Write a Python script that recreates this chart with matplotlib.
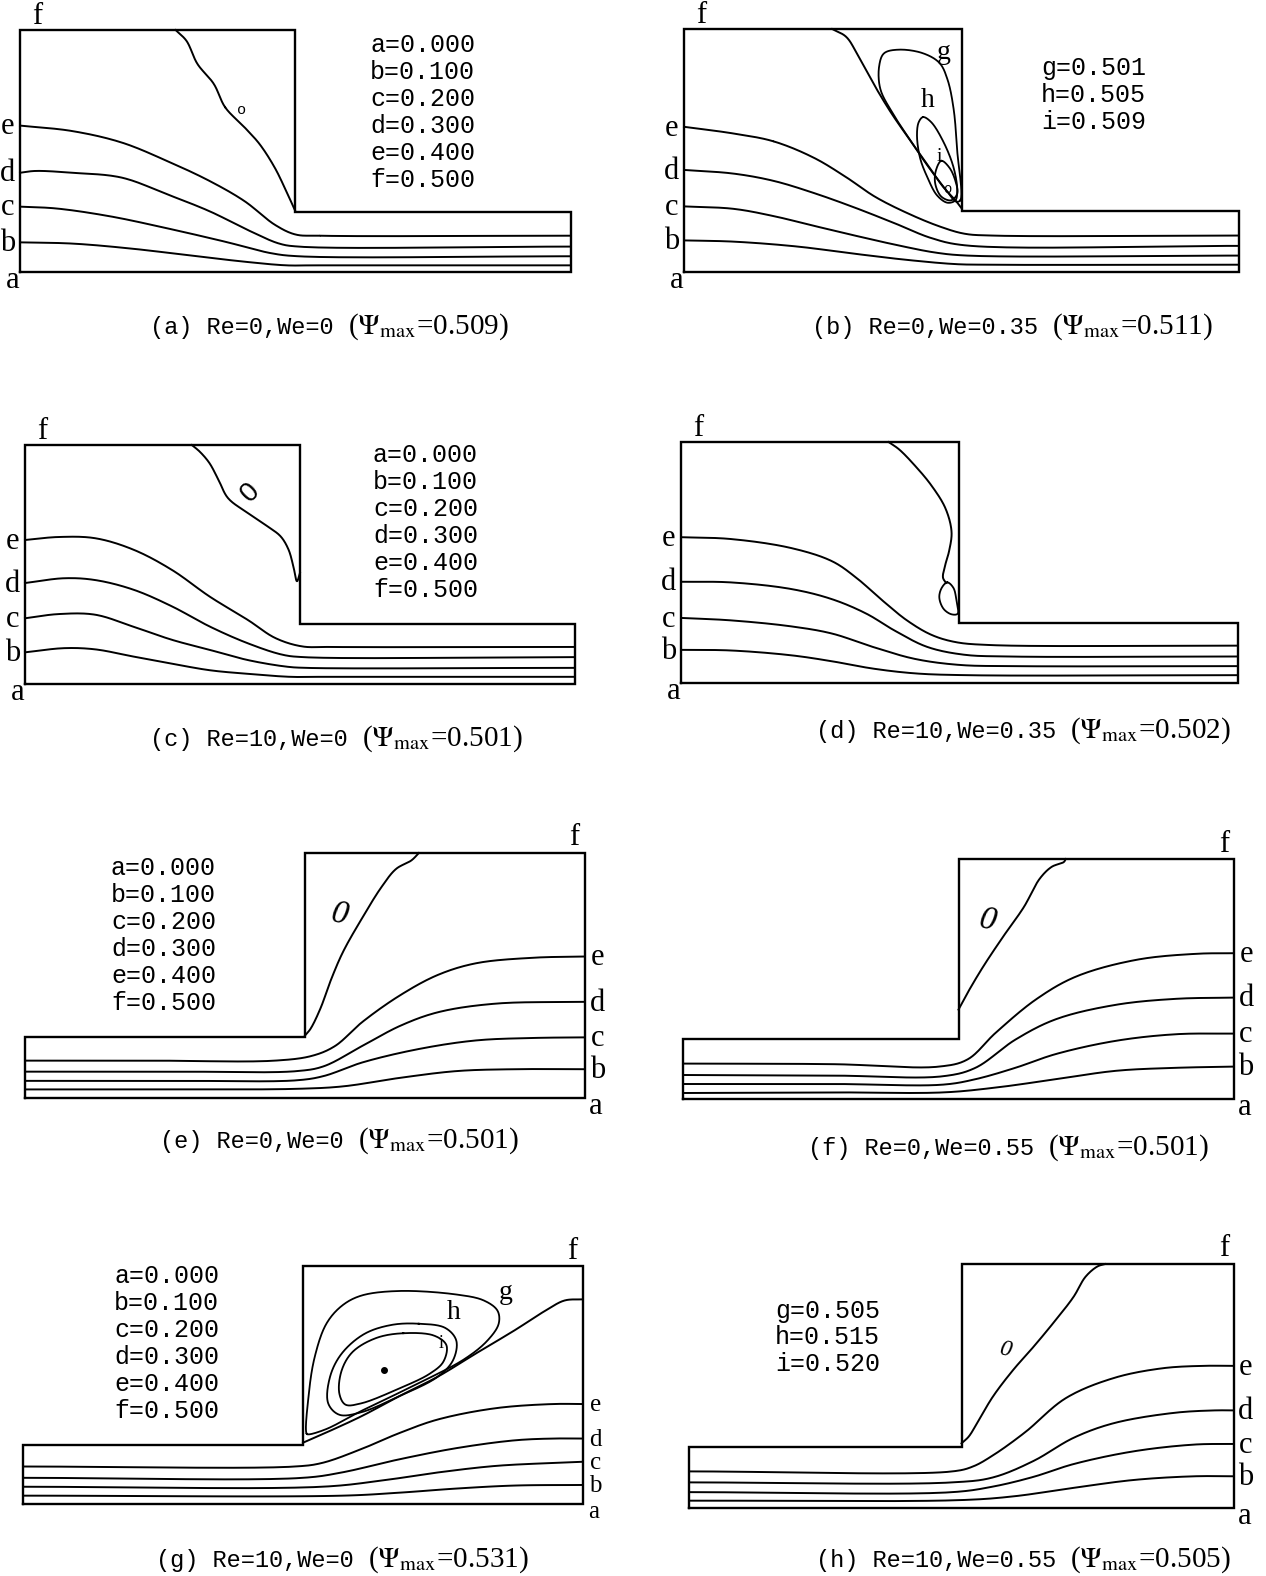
"""
Streamline plots for 4:1 contraction / expansion flow (eight cases).
Points are read off the scanned figure in channel units:
x from -4.55 to 4.55 with the step at x=0, y from 0 (centreline) to 4 (wall).
"""

import numpy as np
import matplotlib.pyplot as plt

W, H = 1266, 1576
L = 4.55

# ---- legend / caption data ----
LEGEND_MAIN = ["a=0.000", "b=0.100", "c=0.200", "d=0.300", "e=0.400", "f=0.500"]
LEGEND_B = ["g=0.501", "h=0.505", "i=0.509"]
LEGEND_H = ["g=0.505", "h=0.515", "i=0.520"]

TAGS = ["(a)", "(b)", "(c)", "(d)", "(e)", "(f)", "(g)", "(h)"]
PARAMS = ["Re=0,We=0", "Re=0,We=0.35", "Re=10,We=0", "Re=10,We=0.35",
          "Re=0,We=0", "Re=0,We=0.55", "Re=10,We=0", "Re=10,We=0.55"]
PSI_MAX = ["0.509", "0.511", "0.501", "0.502", "0.501", "0.501", "0.531", "0.505"]

# ---- (a) Re=0, We=0 ----
A_E = [(-4.55, 2.42), (-3.69, 2.33), (-2.87, 2.14), (-2.11, 1.83), (-1.41, 1.5),
       (-0.84, 1.17), (-0.34, 0.78), (0.0, 0.62), (0.4, 0.6), (4.55, 0.6)]
A_D = [(-4.55, 1.64), (-4.3, 1.67), (-3.69, 1.64), (-2.87, 1.56), (-2.11, 1.28),
       (-1.41, 1.0), (-0.78, 0.69), (-0.27, 0.47), (0.05, 0.42), (4.55, 0.42)]
A_C = [(-4.55, 1.08), (-3.95, 1.05), (-3.06, 0.92), (-2.11, 0.72), (-1.16, 0.5),
       (-0.4, 0.31), (0.05, 0.26), (4.55, 0.26)]
A_B = [(-4.55, 0.49), (-3.69, 0.47), (-2.74, 0.39), (-1.79, 0.28), (-0.84, 0.17),
       (-0.15, 0.11), (0.3, 0.11), (4.55, 0.11)]
A_SEP = [(-1.98, 4.0), (-1.8, 3.82), (-1.62, 3.44), (-1.35, 3.11), (-1.16, 2.72),
         (-0.84, 2.39), (-0.59, 2.11), (-0.34, 1.72), (-0.15, 1.33), (0.0, 1.0)]

# ---- (b) Re=0, We=0.35 ----
B_E = [(-4.55, 2.39), (-3.74, 2.28), (-3.08, 2.15), (-2.42, 1.88), (-1.89, 1.56),
       (-1.42, 1.24), (-0.89, 0.97), (-0.36, 0.75), (0.05, 0.63), (0.5, 0.6), (4.55, 0.6)]
B_D = [(-4.55, 1.68), (-3.74, 1.62), (-3.08, 1.5), (-2.42, 1.3), (-1.75, 1.06),
       (-1.09, 0.8), (-0.5, 0.56), (0.05, 0.44), (4.55, 0.43)]
B_C = [(-4.55, 1.08), (-3.74, 1.04), (-3.08, 0.92), (-2.42, 0.76), (-1.75, 0.6),
       (-1.09, 0.45), (-0.43, 0.32), (0.1, 0.27), (4.55, 0.27)]
B_B = [(-4.55, 0.52), (-3.74, 0.5), (-2.7, 0.42), (-1.75, 0.3), (-0.9, 0.2),
       (-0.1, 0.13), (0.4, 0.12), (4.55, 0.12)]
B_SEP = [(-2.12, 4.0), (-1.89, 3.87), (-1.69, 3.55), (-1.42, 3.06), (-1.16, 2.63),
         (-0.83, 2.15), (-0.56, 1.77), (-0.3, 1.4), (-0.1, 1.18), (0.0, 1.05)]
B_G = [(-0.02, 1.18), (-0.07, 1.99), (-0.13, 2.69), (-0.23, 3.17), (-0.36, 3.44),
       (-0.63, 3.6), (-1.03, 3.66), (-1.27, 3.6), (-1.35, 3.39), (-1.33, 3.01),
       (-1.12, 2.6), (-0.84, 2.17), (-0.55, 1.74), (-0.26, 1.36), (-0.09, 1.16)]
B_H = [(-0.63, 2.55), (-0.5, 2.47), (-0.3, 2.15), (-0.13, 1.72), (-0.07, 1.34),
       (-0.1, 1.18), (-0.23, 1.14), (-0.4, 1.26), (-0.56, 1.56), (-0.68, 1.88),
       (-0.73, 2.26), (-0.7, 2.47)]
B_I = [(-0.33, 1.83), (-0.2, 1.72), (-0.1, 1.5), (-0.07, 1.29), (-0.17, 1.18),
       (-0.33, 1.24), (-0.43, 1.45), (-0.42, 1.67)]

# ---- (c) Re=10, We=0 ----
C_E = [(-4.55, 2.41), (-4.0, 2.46), (-3.39, 2.44), (-2.76, 2.25), (-2.12, 1.91),
       (-1.49, 1.46), (-0.86, 1.07), (-0.41, 0.77), (0.03, 0.63), (0.5, 0.62), (4.55, 0.62)]
C_D = [(-4.55, 1.69), (-3.9, 1.77), (-3.39, 1.74), (-2.76, 1.58), (-2.12, 1.3),
       (-1.49, 0.96), (-0.86, 0.68), (-0.29, 0.49), (0.05, 0.45), (4.55, 0.45)]
C_C = [(-4.55, 1.1), (-4.0, 1.17), (-3.39, 1.16), (-2.76, 0.96), (-2.12, 0.74),
       (-1.49, 0.57), (-0.86, 0.4), (-0.22, 0.29), (0.1, 0.27), (4.55, 0.27)]
C_B = [(-4.55, 0.53), (-3.9, 0.6), (-3.39, 0.58), (-2.76, 0.46), (-2.12, 0.34),
       (-1.49, 0.23), (-0.86, 0.17), (-0.16, 0.12), (0.3, 0.12), (4.55, 0.12)]
C_SEP = [(-1.79, 4.0), (-1.66, 3.89), (-1.5, 3.7), (-1.35, 3.42), (-1.19, 3.11),
         (-0.86, 2.86), (-0.54, 2.64), (-0.32, 2.47), (-0.19, 2.25), (-0.11, 1.97),
         (-0.05, 1.72), (0.0, 1.86)]

# ---- (d) Re=10, We=0.35 ----
D_E = [(-4.55, 2.42), (-3.74, 2.39), (-2.75, 2.24), (-2.08, 2.02), (-1.69, 1.75),
       (-1.26, 1.37), (-0.86, 1.04), (-0.46, 0.8), (-0.07, 0.68), (0.5, 0.63), (4.55, 0.62)]
D_D = [(-4.55, 1.68), (-3.74, 1.67), (-2.75, 1.56), (-2.08, 1.39), (-1.52, 1.15),
       (-1.06, 0.87), (-0.53, 0.6), (0.07, 0.47), (0.8, 0.44), (4.55, 0.44)]
D_C = [(-4.55, 1.08), (-3.74, 1.04), (-2.75, 0.94), (-2.08, 0.82), (-1.42, 0.6),
       (-0.73, 0.4), (0.0, 0.3), (0.9, 0.28), (4.55, 0.28)]
D_B = [(-4.55, 0.55), (-3.74, 0.54), (-2.75, 0.46), (-2.08, 0.36), (-1.42, 0.24),
       (-0.73, 0.16), (0.1, 0.13), (4.55, 0.13)]
D_SEP = [(-1.16, 4.0), (-0.99, 3.88), (-0.73, 3.61), (-0.46, 3.28), (-0.23, 2.9),
         (-0.13, 2.51), (-0.17, 2.19), (-0.23, 1.97), (-0.27, 1.75), (-0.22, 1.66)]
D_LOOP = [(-0.2, 1.67), (-0.1, 1.58), (-0.05, 1.37), (-0.03, 1.15), (-0.13, 1.14),
          (-0.26, 1.23), (-0.33, 1.42), (-0.29, 1.58)]

# ---- (e) Re=0, We=0 (expansion) ----
E_E = [(-4.55, 0.61), (-2.47, 0.61), (-0.49, 0.61), (0.12, 0.69), (0.49, 0.85),
       (0.93, 1.24), (1.55, 1.68), (2.16, 2.01), (2.78, 2.2), (3.71, 2.29), (4.55, 2.31)]
E_D = [(-4.55, 0.43), (-2.0, 0.43), (-0.12, 0.44), (0.31, 0.52), (0.93, 0.85),
       (1.55, 1.18), (2.16, 1.4), (3.09, 1.54), (4.55, 1.57)]
E_C = [(-4.55, 0.28), (-2.0, 0.28), (-0.12, 0.29), (0.31, 0.36), (0.93, 0.58),
       (1.85, 0.8), (2.78, 0.94), (3.71, 0.98), (4.55, 0.99)]
E_B = [(-4.55, 0.14), (-2.0, 0.14), (-0.12, 0.15), (0.62, 0.19), (1.55, 0.33),
       (2.47, 0.44), (3.4, 0.47), (4.55, 0.47)]
E_SEP = [(0.0, 1.02), (0.09, 1.13), (0.25, 1.46), (0.43, 1.95), (0.62, 2.39),
         (0.93, 2.94), (1.24, 3.44), (1.48, 3.74), (1.73, 3.88), (1.85, 4.0)]

# ---- (f) Re=0, We=0.55 (expansion) ----
F_E = [(-4.55, 0.59), (-2.05, 0.58), (-0.32, 0.54), (0.15, 0.66), (0.61, 1.1),
       (1.28, 1.66), (1.94, 2.04), (2.94, 2.32), (3.93, 2.42), (4.55, 2.43)]
F_D = [(-4.55, 0.4), (-2.05, 0.39), (-0.25, 0.38), (0.28, 0.52), (0.94, 0.99),
       (1.61, 1.33), (2.6, 1.57), (3.6, 1.67), (4.55, 1.69)]
F_C = [(-4.55, 0.25), (-2.05, 0.25), (-0.25, 0.24), (0.28, 0.33), (0.94, 0.52),
       (1.61, 0.75), (2.6, 0.97), (3.6, 1.08), (4.55, 1.09)]
F_B = [(-4.55, 0.1), (-2.05, 0.11), (-0.25, 0.11), (0.61, 0.19), (1.61, 0.33),
       (2.6, 0.47), (3.6, 0.52), (4.55, 0.54)]
F_SEP = [(0.0, 1.49), (0.15, 1.77), (0.41, 2.21), (0.74, 2.71), (1.08, 3.2),
         (1.34, 3.67), (1.54, 3.87), (1.74, 3.95), (1.77, 4.0)]

# ---- (g) Re=10, We=0 (expansion) ----
G_E = [(-4.55, 0.63), (-0.13, 0.63), (0.31, 0.69), (0.94, 0.92), (1.56, 1.19),
       (2.19, 1.42), (3.13, 1.61), (4.06, 1.68), (4.55, 1.68)]
G_D = [(-4.55, 0.44), (0.0, 0.44), (0.63, 0.53), (1.56, 0.75), (2.5, 0.94),
       (3.44, 1.07), (4.06, 1.1), (4.55, 1.1)]
G_C = [(-4.55, 0.29), (0.31, 0.29), (1.25, 0.39), (2.19, 0.53), (3.13, 0.64),
       (4.06, 0.69), (4.55, 0.71)]
G_B = [(-4.55, 0.14), (0.63, 0.14), (1.56, 0.19), (2.5, 0.26), (3.44, 0.31), (4.55, 0.32)]
G_SEP = [(0.0, 1.03), (0.31, 1.17), (0.94, 1.47), (1.56, 1.81), (2.19, 2.14),
         (2.81, 2.53), (3.44, 2.92), (3.94, 3.25), (4.25, 3.42), (4.55, 3.44)]
G_G = [(0.06, 1.18), (0.09, 1.81), (0.19, 2.47), (0.38, 3.03), (0.63, 3.33),
       (0.94, 3.5), (1.56, 3.58), (2.5, 3.52), (2.94, 3.42), (3.16, 3.25),
       (3.18, 3.03), (3.0, 2.75), (2.63, 2.44), (1.88, 2.03), (0.94, 1.56),
       (0.38, 1.26), (0.09, 1.17)]
G_H = [(1.88, 3.03), (2.31, 2.96), (2.49, 2.75), (2.44, 2.42), (2.19, 2.14),
       (1.56, 1.81), (0.94, 1.54), (0.59, 1.5), (0.41, 1.69), (0.44, 2.14),
       (0.63, 2.53), (1.0, 2.86), (1.44, 3.01)]
G_I = [(1.63, 2.87), (2.13, 2.83), (2.33, 2.67), (2.28, 2.39), (2.06, 2.19),
       (1.56, 1.94), (0.94, 1.69), (0.69, 1.67), (0.59, 1.86), (0.63, 2.25),
       (0.81, 2.56), (1.19, 2.79)]
G_CENTRE = (1.31, 2.25)

# ---- (h) Re=10, We=0.55 (expansion) ----
H_E = [(-4.55, 0.6), (-0.15, 0.6), (0.19, 0.68), (0.52, 0.86), (1.06, 1.24),
       (1.74, 1.8), (2.54, 2.13), (3.35, 2.29), (4.02, 2.33), (4.55, 2.33)]
H_D = [(-4.55, 0.42), (-0.15, 0.42), (0.52, 0.5), (1.2, 0.77), (1.87, 1.15),
       (2.54, 1.39), (3.55, 1.56), (4.23, 1.6), (4.55, 1.6)]
H_C = [(-4.55, 0.26), (-0.15, 0.26), (0.52, 0.35), (1.2, 0.51), (1.87, 0.72),
       (2.88, 0.93), (3.89, 1.04), (4.55, 1.05)]
H_B = [(-4.55, 0.12), (0.0, 0.13), (0.86, 0.19), (1.87, 0.33), (2.88, 0.46),
       (3.89, 0.52), (4.55, 0.52)]
H_SEP = [(0.0, 1.06), (0.12, 1.17), (0.26, 1.39), (0.52, 1.82), (0.86, 2.26),
         (1.2, 2.64), (1.53, 3.03), (1.87, 3.46), (2.07, 3.79), (2.27, 3.96), (2.4, 4.0)]

MONO = "Liberation Mono"
SERIF = "Liberation Serif"
plt.rcParams["mathtext.fontset"] = "stix"


def smooth(pts, closed=False, n=24):
    """Centripetal Catmull-Rom curve through the read points."""
    p = np.asarray(pts, float)
    if closed:
        p = np.vstack([p[-1], p, p[0], p[1]])
    else:
        p = np.vstack([2 * p[0] - p[1], p, 2 * p[-1] - p[-2]])
    out = []
    for i in range(1, len(p) - 2):
        p0, p1, p2, p3 = p[i - 1], p[i], p[i + 1], p[i + 2]
        t0 = 0.0
        t1 = t0 + max(np.linalg.norm(p1 - p0), 1e-6) ** 0.5
        t2 = t1 + max(np.linalg.norm(p2 - p1), 1e-6) ** 0.5
        t3 = t2 + max(np.linalg.norm(p3 - p2), 1e-6) ** 0.5
        t = np.linspace(t1, t2, n)[:, None]
        a1 = (t1 - t) / (t1 - t0) * p0 + (t - t0) / (t1 - t0) * p1
        a2 = (t2 - t) / (t2 - t1) * p1 + (t - t1) / (t2 - t1) * p2
        a3 = (t3 - t) / (t3 - t2) * p2 + (t - t2) / (t3 - t2) * p3
        b1 = (t2 - t) / (t2 - t0) * a1 + (t - t0) / (t2 - t0) * a2
        b2 = (t3 - t) / (t3 - t1) * a2 + (t - t1) / (t3 - t1) * a3
        out.append((t2 - t) / (t2 - t1) * b1 + (t - t1) / (t2 - t1) * b2)
    return np.vstack(out)


def fx(x):
    return x / W


def fy(y):
    return 1 - y / H


def draw_panel(rect, expansion, lines, extra=(), closed=(), tag_size=22):
    left, top, width, height = rect
    ax = fig.add_axes([fx(left), fy(top + height), width / W, height / H])
    ax.set_xlim(-L, L)
    ax.set_ylim(0, 4)
    ax.axis("off")
    if expansion:
        ox, oy = [-L, -L, 0, 0, L, L, -L], [0, 1, 1, 4, 4, 0, 0]
    else:
        ox, oy = [-L, -L, 0, 0, L, L, -L], [0, 4, 4, 1, 1, 0, 0]
    ax.plot(ox, oy, color="black", lw=1.7, clip_on=False, solid_joinstyle="miter")
    for pts in list(lines) + list(extra):
        c = smooth(pts)
        ax.plot(c[:, 0], c[:, 1], color="black", lw=1.4, clip_on=False)
    for pts in closed:
        c = smooth(pts, closed=True)
        c = np.vstack([c, c[:1]])
        ax.plot(c[:, 0], c[:, 1], color="black", lw=1.3, clip_on=False)

    # letter tags at the inflow / outflow edge
    lab = dict(fontsize=tag_size, family=SERIF, ha="center", va="center")
    for letter, pts in zip("edcb", lines):
        if expansion:
            ax.text(pts[-1][0] + 0.2, pts[-1][1] - 0.02, letter, **lab)
        else:
            ax.text(pts[0][0] - 0.2, pts[0][1] - 0.02, letter, **lab)
    if expansion:
        ax.text(L + 0.18, -0.14, "a", **lab)
        ax.text(L - 0.17, 4.25, "f", **dict(lab, fontsize=22))
    else:
        ax.text(-L - 0.12, -0.14, "a", **lab)
        ax.text(-L + 0.28, 4.22, "f", **dict(lab, fontsize=22))
    return ax


def legend(x, y0, rows, step=27.0):
    for k, s in enumerate(rows):
        fig.text(fx(x), fy(y0 + k * step), s, family=MONO, fontsize=18,
                 ha="left", va="center")


def caption(x, y, tag, params, psi):
    t1 = fig.text(fx(x), fy(y), f"{tag} {params} ", family=MONO, fontsize=17,
                  ha="left", va="baseline")
    bb = t1.get_window_extent(renderer=fig.canvas.get_renderer())
    fig.text(bb.x1 / fig.dpi / fig.get_figwidth(), fy(y),
             r"($\Psi_{\mathrm{max}}$=" + psi + ")", family=SERIF, fontsize=21,
             ha="left", va="baseline")


fig = plt.figure(figsize=(W / 100, H / 100), dpi=100)
fig.patch.set_facecolor("white")

# (a)
ax = draw_panel((20, 30, 551, 242), False, [A_E, A_D, A_C, A_B], [A_SEP])
ax.text(-0.89, 2.68, "o", fontsize=11, family=MONO, ha="center", va="center")
legend(370, 45, LEGEND_MAIN)

# (b)
ax = draw_panel((684, 29, 555, 243), False, [B_E, B_D, B_C, B_B], [B_SEP],
                [B_G, B_H, B_I])
ax.text(-0.3, 3.62, "g", fontsize=20, family=SERIF, ha="center", va="center")
ax.text(-0.56, 2.82, "h", fontsize=20, family=SERIF, ha="center", va="center")
ax.text(-0.36, 1.9, "i", fontsize=14, family=SERIF, ha="center", va="center")
ax.text(-0.24, 1.36, "o", fontsize=10, family=MONO, ha="center", va="center")
legend(1041, 68, LEGEND_B)

# (c)
ax = draw_panel((25, 445, 550, 239), False, [C_E, C_D, C_C, C_B], [C_SEP])
ax.text(-0.82, 3.2, "0", fontsize=20, family="Liberation Sans", rotation=45,
        ha="center", va="center")
legend(373, 455, LEGEND_MAIN)

# (d)
ax = draw_panel((681, 442, 557, 241), False, [D_E, D_D, D_C, D_B], [D_SEP], [D_LOOP])

# (e)
ax = draw_panel((25, 853, 560, 245), True, [E_E, E_D, E_C, E_B], [E_SEP])
ax.text(0.56, 3.0, "0", fontsize=24, family=SERIF, style="italic", rotation=-12,
        ha="center", va="center")
legend(111, 868, LEGEND_MAIN)

# (f)
ax = draw_panel((683, 859, 551, 240), True, [F_E, F_D, F_C, F_B], [F_SEP])
ax.text(0.48, 2.98, "0", fontsize=24, family=SERIF, style="italic", rotation=-12,
        ha="center", va="center")

# (g)
ax = draw_panel((23, 1266, 560, 238), True, [G_E, G_D, G_C, G_B], [G_SEP],
                [G_G, G_H, G_I], tag_size=18)
ax.plot([G_CENTRE[0]], [G_CENTRE[1]], "o", color="black", ms=4)
ax.text(3.3, 3.55, "g", fontsize=20, family=SERIF, ha="center", va="center")
ax.text(2.45, 3.22, "h", fontsize=20, family=SERIF, ha="center", va="center")
ax.text(2.25, 2.7, "i", fontsize=13, family=SERIF, ha="center", va="center")
legend(114, 1276, LEGEND_MAIN)

# (h)
ax = draw_panel((689, 1264, 545, 244), True, [H_E, H_D, H_C, H_B], [H_SEP])
ax.text(0.73, 2.6, "0", fontsize=17, family=SERIF, style="italic", rotation=-12,
        ha="center", va="center")
legend(775, 1311, LEGEND_H, step=26.5)

# captions
cap_xy = [(150, 334), (812, 334), (150, 746), (816, 738),
          (160, 1148), (808, 1155), (156, 1567), (816, 1567)]
for (cx, cy), tag, par, psi in zip(cap_xy, TAGS, PARAMS, PSI_MAX):
    caption(cx, cy, tag, par, psi)

fig.savefig("out.png", dpi=100, facecolor="white")
